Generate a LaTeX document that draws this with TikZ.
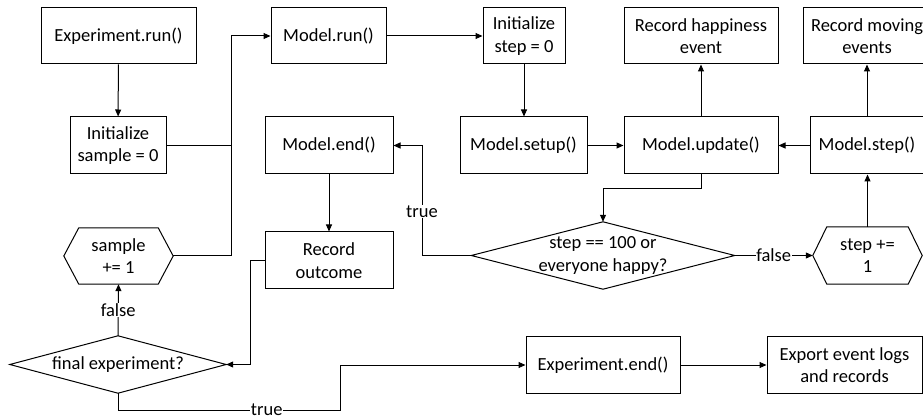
\documentclass[tikz,border=0pt]{standalone}
\usepackage{fontspec}
\setmainfont{Carlito}
\usetikzlibrary{arrows.meta,calc}
\begin{document}
\begin{tikzpicture}[x=1pt,y=-1pt,
  every node/.style={font=\fontsize{18.5}{22.5}\selectfont},
  box/.style={draw, line width=1pt, inner sep=0pt, align=center, minimum height=56pt},
  ghost/.style={inner sep=0pt, align=center},
  conn/.style={line width=1pt},
  arr/.style={conn, -{Triangle[length=7pt,width=6pt]}},
  lbl/.style={fill=white, inner sep=1pt},
  shapeline/.style={draw, line width=1pt}
]
\useasboundingbox (0,0) rectangle (923,419);
% boxes
\node[box, minimum width=155pt] (exprun) at (118.5,36) {Experiment.run()};
\node[box, minimum width=96pt, minimum height=57pt] (initsample) at (118,145.5) {Initialize\\sample = 0};
\node[box, minimum width=115pt] (modelrun) at (328.5,36) {Model.run()};
\node[box, minimum width=128pt, minimum height=57pt] (modelend) at (329,145.5) {Model.end()};
\node[box, minimum width=82pt] (initstep) at (524,36) {Initialize\\step = 0};
\node[box, minimum width=127pt, minimum height=57pt] (setup) at (523.5,145.5) {Model.setup()};
\node[box, minimum width=154pt, minimum height=57pt] (update) at (701,145.5) {Model.update()};
\node[box, minimum width=154pt] (happy) at (701,36) {Record happiness\\event};
\node[box, minimum width=128pt] (moving) at (867,36) {Record moving\\events};
\node[box, minimum width=114pt, minimum height=57pt] (step) at (867,145.5) {Model.step()};
\node[box, minimum width=128pt, minimum height=57pt] (recout) at (329,260.5) {Record\\outcome};
\node[box, minimum width=154pt] (expend) at (603,365) {Experiment.end()};
\node[box, minimum width=155pt] (export) at (844.5,365) {Export event logs\\and records};
% hexagons
\node[ghost, minimum width=109pt, minimum height=57pt] (stephex) at (867.5,255.5) {step +=\\1};
\draw[shapeline] (stephex.west) -- ([xshift=14pt]stephex.north west) -- ([xshift=-14pt]stephex.north east) -- (stephex.east) -- ([xshift=-14pt]stephex.south east) -- ([xshift=14pt]stephex.south west) -- cycle;
\node[ghost, minimum width=109pt, minimum height=56pt] (samplehex) at (118.5,256) {sample\\+= 1};
\draw[shapeline] (samplehex.west) -- ([xshift=15pt]samplehex.north west) -- ([xshift=-15pt]samplehex.north east) -- (samplehex.east) -- ([xshift=-15pt]samplehex.south east) -- ([xshift=15pt]samplehex.south west) -- cycle;
% diamonds
\node[ghost, minimum width=263pt, minimum height=67pt] (stepdiam) at (603,255.5) {step == 100 or\\everyone happy?};
\draw[shapeline] (stepdiam.west) -- (stepdiam.north) -- (stepdiam.east) -- (stepdiam.south) -- cycle;
\node[ghost, minimum width=216pt, minimum height=57pt] (finaldiam) at (118,364.5) {final experiment?};
\draw[shapeline] (finaldiam.west) -- (finaldiam.north) -- (finaldiam.east) -- (finaldiam.south) -- cycle;
% helper coordinates
\coordinate (jx) at (231,0);
\coordinate (k1) at (0,189);
\coordinate (tx) at (422,0);
\coordinate (rx) at (250,0);
\coordinate (by) at (0,410);
\coordinate (bx) at (340,0);
% connectors
\draw[arr] (exprun) -- (initsample);
\draw[conn] (initsample.east) -- (jx |- initsample.east);
\draw[arr] (samplehex.east) -- (jx |- samplehex.east) -- (jx |- modelrun.west) -- (modelrun.west);
\draw[arr] (modelrun.east) -- (initstep.west);
\draw[arr] (initstep.south) -- (initstep.south |- setup.north);
\draw[arr] (setup.east) -- (update.west);
\draw[arr] (update.north) -- (happy.south);
\draw[arr] (step.west) -- (update.east);
\draw[arr] (step.north) -- (moving.south);
\draw[arr] (stephex.north) -- (stephex.north |- step.south);
\draw[arr] (update.south) -- (update.south |- k1) -- (stepdiam.north |- k1) -- (stepdiam.north);
\draw[arr] (stepdiam.west) -- (tx |- stepdiam.west) -- node[lbl, pos=0.4] {true} (tx |- modelend.east) -- (modelend.east);
\draw[arr] (stepdiam.east) -- node[lbl, inner sep=0.5pt] {false} (stephex.west);
\draw[arr] (modelend.south) -- (recout.north);
\draw[arr] (recout.west) -- (rx |- recout.west) -- (rx |- finaldiam.east) -- (finaldiam.east);
\draw[arr] (finaldiam.north) -- node[lbl] {false} (samplehex.south);
\draw[arr] (finaldiam.south) -- (finaldiam.south |- by) -- node[lbl, pos=0.67, inner sep=0.5pt] {true} (bx |- by) -- (bx |- expend.west) -- (expend.west);
\draw[arr] (expend.east) -- (export.west);
\end{tikzpicture}
\end{document}
